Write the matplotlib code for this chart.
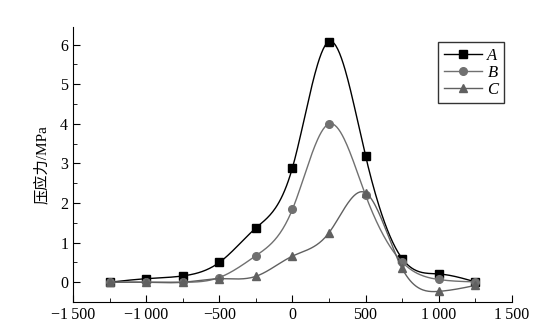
import numpy as np
import matplotlib
matplotlib.use("Agg")
from matplotlib import pyplot as plt
from matplotlib.ticker import MultipleLocator, FuncFormatter

# 距离 (mm) 与各测线压应力 (MPa)
x = [-1250, -1000, -750, -500, -250, 0, 250, 500, 750, 1000, 1250]
a = [0.0, 0.09, 0.16, 0.50, 1.37, 2.89, 6.08, 3.19, 0.60, 0.21, 0.01]
b = [0.0, 0.0, 0.0, 0.12, 0.67, 1.84, 4.00, 2.20, 0.51, 0.07, 0.01]
c = [0.0, 0.0, 0.0, 0.09, 0.15, 0.66, 1.25, 2.26, 0.35, -0.23, -0.08]
names = ["A", "B", "C"]


def spline(xs, ys, n=400):
    # 自然三次样条, 只用于画平滑曲线
    xs = np.asarray(xs, float)
    ys = np.asarray(ys, float)
    h = np.diff(xs)
    k = len(xs)
    m = np.zeros((k, k))
    r = np.zeros(k)
    m[0, 0] = m[-1, -1] = 1
    for i in range(1, k - 1):
        m[i, i - 1] = h[i - 1]
        m[i, i] = 2 * (h[i - 1] + h[i])
        m[i, i + 1] = h[i]
        r[i] = 6 * ((ys[i + 1] - ys[i]) / h[i] - (ys[i] - ys[i - 1]) / h[i - 1])
    s = np.linalg.solve(m, r)
    xx = np.linspace(xs[0], xs[-1], n)
    idx = np.clip(np.searchsorted(xs, xx) - 1, 0, k - 2)
    t0 = xs[idx]
    t1 = xs[idx + 1]
    hh = t1 - t0
    yy = (s[idx] * (t1 - xx) ** 3 / (6 * hh) + s[idx + 1] * (xx - t0) ** 3 / (6 * hh)
          + (ys[idx] / hh - s[idx] * hh / 6) * (t1 - xx)
          + (ys[idx + 1] / hh - s[idx + 1] * hh / 6) * (xx - t0))
    return xx, yy


plt.rcParams["font.family"] = ["Liberation Serif", "Noto Sans CJK SC"]

fig = plt.figure(figsize=(5.59, 3.36), dpi=100)
ax = fig.add_axes([0.1306, 0.101, 0.785, 0.819])

styles = [("#000000", "s"), ("#707070", "o"), ("#606060", "^")]
for ys, name, (col, mk) in zip([a, b, c], names, styles):
    xx, yy = spline(x, ys)
    ax.plot(xx, yy, color=col, lw=1.0)
    ax.plot(x, ys, color=col, lw=0, marker=mk, ms=5.5)
    ax.plot([], [], color=col, lw=1.0, marker=mk, ms=5.5, label=name)

ax.set_xlim(-1500, 1500)
ax.set_ylim(-0.5, 6.45)
ax.spines["top"].set_visible(False)
ax.spines["right"].set_visible(False)
ax.xaxis.set_major_locator(MultipleLocator(500))
ax.xaxis.set_minor_locator(MultipleLocator(250))
ax.yaxis.set_major_locator(MultipleLocator(1))
ax.yaxis.set_minor_locator(MultipleLocator(0.5))
ax.tick_params(which="both", direction="in", labelsize=11.5)
ax.tick_params(which="major", length=5)
ax.tick_params(which="minor", length=3)


def fmt(v, pos):
    s = "{:,.0f}".format(abs(v)).replace(",", "\u2009")
    return ("\u2212" if v < 0 else "") + s


ax.xaxis.set_major_formatter(FuncFormatter(fmt))
ax.set_ylabel("压应力/MPa", fontsize=11, labelpad=8)

leg = ax.legend(loc="upper right", bbox_to_anchor=(0.983, 0.945), frameon=True,
                fancybox=False, edgecolor="black", handlelength=2.3,
                handletextpad=0.3, labelspacing=0.05, borderpad=0.35,
                borderaxespad=0, prop={"style": "italic", "size": 12})
leg.get_frame().set_linewidth(1.0)

fig.savefig("out.png", dpi=100)
